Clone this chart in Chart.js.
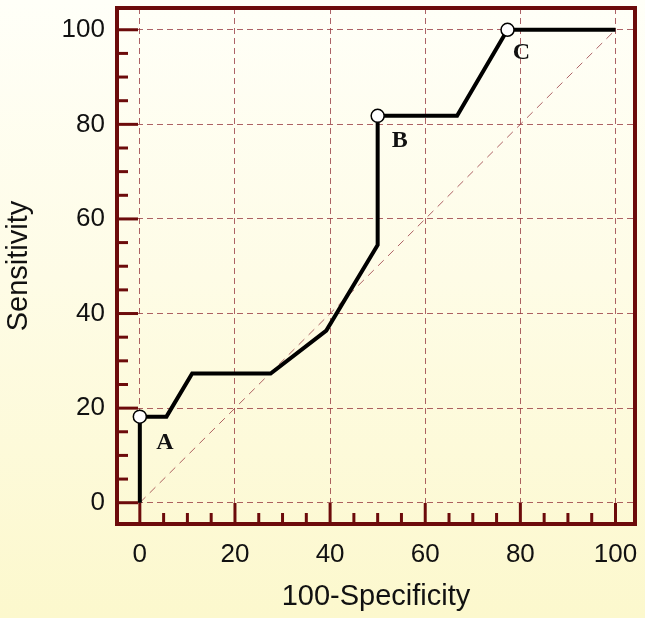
<!DOCTYPE html>
<html>
<head>
<meta charset="utf-8">
<script src="https://cdn.jsdelivr.net/npm/chart.js@4"></script>
<style>
  html, body { margin: 0; padding: 0; }
  body {
    width: 645px;
    height: 618px;
    background: linear-gradient(to bottom, #fffff8 0%, #fefce6 45%, #fcf8cd 100%);
  }
  canvas { display: block; }
</style>
</head>
<body>
<canvas id="roc" width="645" height="618"></canvas>
<script>
// ROC curve (100-Specificity vs Sensitivity)
const fpr = [0, 0, 5.6, 11.0, 27.5, 39.2, 50.0, 50.0, 66.7, 77.3, 100];
const tpr = [0, 18.2, 18.2, 27.3, 27.3, 36.4, 54.5, 81.8, 81.8, 100, 100];

// highlighted criterion points
const cutLabels = ['A', 'B', 'C'];
const cutFpr = [0, 50.0, 77.3];
const cutTpr = [18.2, 81.8, 100];

// reference diagonal
const diagX = [0, 100];
const diagY = [0, 100];

const tickValues = [0, 5, 10, 15, 20, 25, 30, 35, 40, 45, 50, 55, 60, 65, 70, 75, 80, 85, 90, 95, 100];
const labelStep = 20;

const frameColor = '#6c0b0b';
const gridColor = 'rgba(145, 45, 55, 0.75)';

const isMajor = v => v % labelStep === 0;

// frame, inward tick marks and point letters
const framePlugin = {
    id: 'frame',
    afterDatasetsDraw(chart) {
        const ctx = chart.ctx;
        const area = chart.chartArea;
        const xs = chart.scales.x;
        const ys = chart.scales.y;

        ctx.save();
        // letters next to the cut points
        const offsets = [[25, 26], [22, 25], [14, 23]];
        ctx.fillStyle = '#111';
        ctx.font = 'bold 24px "Liberation Serif", "Times New Roman", serif';
        ctx.textAlign = 'center';
        ctx.textBaseline = 'middle';
        cutLabels.forEach((lab, i) => {
            const px = xs.getPixelForValue(cutFpr[i]) + offsets[i][0];
            const py = ys.getPixelForValue(cutTpr[i]) + offsets[i][1];
            ctx.fillText(lab, px, py);
        });

        ctx.strokeStyle = frameColor;
        ctx.lineWidth = 3;
        ctx.lineCap = 'butt';
        tickValues.forEach(v => {
            const len = isMajor(v) ? 21 : 11;
            const py = ys.getPixelForValue(v);
            ctx.beginPath();
            ctx.moveTo(area.left, py);
            ctx.lineTo(area.left + len, py);
            ctx.stroke();
            const px = xs.getPixelForValue(v);
            ctx.beginPath();
            ctx.moveTo(px, area.bottom);
            ctx.lineTo(px, area.bottom - len);
            ctx.stroke();
        });

        ctx.lineWidth = 4;
        ctx.strokeRect(area.left, area.top, area.right - area.left, area.bottom - area.top);
        ctx.restore();
    }
};

const tickFont = { family: 'Arial, "Liberation Sans", sans-serif', size: 26 };
const titleFont = { family: 'Arial, "Liberation Sans", sans-serif', size: 29 };

// fixed axis boxes, no extra label padding
const fixBox = size => s => {
    if (s.isHorizontal()) s.height = size; else s.width = size;
    s.paddingTop = 0;
    s.paddingBottom = 0;
    s.paddingLeft = 0;
    s.paddingRight = 0;
};

const ctx = document.getElementById('roc').getContext('2d');
const chart = new Chart(ctx, {
    type: 'scatter',
    data: {
        datasets: [
            {
                label: 'Criteria',
                data: cutFpr.map((x, i) => ({ x: x, y: cutTpr[i] })),
                showLine: false,
                pointRadius: 6.5,
                pointBackgroundColor: '#fff',
                pointBorderColor: '#000',
                pointBorderWidth: 1.5,
                order: 1,
            },
            {
                label: 'ROC',
                data: fpr.map((x, i) => ({ x: x, y: tpr[i] })),
                showLine: true,
                borderColor: '#000',
                borderWidth: 4,
                borderJoinStyle: 'miter',
                pointRadius: 0,
                tension: 0,
                order: 2,
            },
            {
                label: 'Diagonal',
                data: diagX.map((x, i) => ({ x: x, y: diagY[i] })),
                showLine: true,
                borderColor: gridColor,
                borderWidth: 1,
                borderDash: [8, 6],
                pointRadius: 0,
                order: 3,
            },
        ],
    },
    options: {
        responsive: false,
        animation: false,
        layout: { padding: { top: 7, right: 10, left: 0, bottom: 0 } },
        plugins: {
            legend: { display: false },
            tooltip: { enabled: false },
        },
        scales: {
            x: {
                type: 'linear',
                min: -4.8,
                max: 104.1,
                afterBuildTicks: s => { s.ticks = tickValues.map(v => ({ value: v })); },
                afterFit: fixBox(94),
                ticks: {
                    autoSkip: false,
                    maxRotation: 0,
                    padding: 15,
                    color: '#111',
                    font: tickFont,
                    callback: v => (isMajor(v) ? String(v) : ''),
                },
                grid: {
                    drawTicks: false,
                    lineWidth: 1,
                    color: c => (c.tick && isMajor(c.tick.value) ? gridColor : 'transparent'),
                },
                border: { display: false, dash: [6, 4] },
                title: {
                    display: true,
                    text: '100-Specificity',
                    color: '#111',
                    font: titleFont,
                    padding: { top: 0, bottom: 4 },
                },
            },
            y: {
                type: 'linear',
                min: -4.5,
                max: 104.6,
                afterBuildTicks: s => { s.ticks = tickValues.map(v => ({ value: v })); },
                afterFit: fixBox(117),
                ticks: {
                    autoSkip: false,
                    padding: 12,
                    color: '#111',
                    font: tickFont,
                    callback: v => (isMajor(v) ? String(v) : ''),
                },
                grid: {
                    drawTicks: false,
                    lineWidth: 1,
                    color: c => (c.tick && isMajor(c.tick.value) ? gridColor : 'transparent'),
                },
                border: { display: false, dash: [6, 4] },
                title: {
                    display: true,
                    text: 'Sensitivity',
                    color: '#111',
                    font: titleFont,
                    padding: { top: 2, bottom: 0 },
                },
            },
        },
    },
    plugins: [framePlugin],
});
</script>
</body>
</html>
